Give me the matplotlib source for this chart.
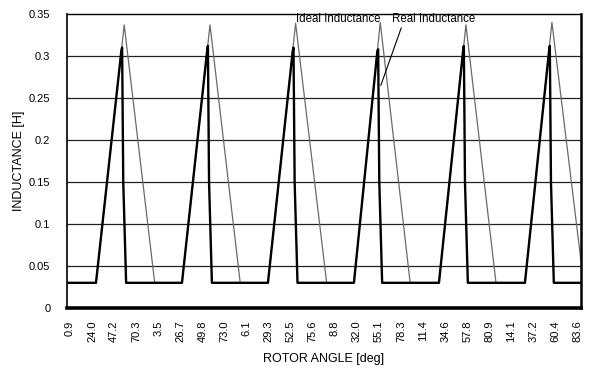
import numpy as np
import matplotlib
matplotlib.use("Agg")
import matplotlib.pyplot as plt

plt.rcParams['font.family'] = ['Liberation Sans', 'DejaVu Sans']

# ---- data (rotor angle, unwrapped degrees) ----
ideal_angle = [-2.2, 28.2, 57.8, 89.8, 118.4, 147.8, 179.5, 208.6, 237.6, 270.2,
               298.8, 326.4, 357.8, 388.0, 416.3, 447.8, 478.2, 506.5, 537.0]
ideal_L = [0.030, 0.030, 0.337, 0.030, 0.030, 0.337, 0.030, 0.030, 0.339, 0.030,
           0.030, 0.340, 0.030, 0.030, 0.337, 0.030, 0.030, 0.340, 0.056]

real_angle = [-2.2, 28.2, 54.8, 55.6, 56.8, 59.8,
              118.4, 144.8, 145.6, 146.8, 149.8,
              208.6, 234.6, 235.4, 236.6, 239.6,
              298.8, 323.4, 324.2, 325.4, 328.4,
              388.0, 413.3, 414.1, 415.3, 418.3,
              478.2, 503.5, 504.3, 505.5, 508.5, 537.0]
real_L = [0.030, 0.030, 0.306, 0.310, 0.150, 0.030,
          0.030, 0.306, 0.312, 0.150, 0.030,
          0.030, 0.306, 0.310, 0.150, 0.030,
          0.030, 0.306, 0.308, 0.150, 0.030,
          0.030, 0.306, 0.312, 0.150, 0.030,
          0.030, 0.306, 0.312, 0.150, 0.030, 0.030]

tick_labels = ['0.9', '24.0', '47.2', '70.3', '3.5', '26.7', '49.8', '73.0',
               '6.1', '29.3', '52.5', '75.6', '8.8', '32.0', '55.1', '78.3',
               '11.4', '34.6', '57.8', '80.9', '14.1', '37.2', '60.4', '83.6']
y_ticks = [0, 0.05, 0.1, 0.15, 0.2, 0.25, 0.3, 0.35]
y_tick_labels = ['0', '0.05', '0.1', '0.15', '0.2', '0.25', '0.3', '0.35']

fig = plt.figure(figsize=(5.92, 3.72), dpi=100)
ax = fig.add_axes([0.1132, 0.172, 0.8682, 0.7904])

ax.set_xlim(-2.2, 537.0)
ax.set_ylim(0, 0.35)

for y in y_ticks[1:-1]:
    ax.axhline(y, color='#222222', lw=0.9, zorder=1)

ax.plot(ideal_angle, ideal_L, color='#6a6a6a', lw=0.9, zorder=2)
ax.plot(real_angle, real_L, color='black', lw=1.7, zorder=3)

tick_pos = np.linspace(0.9, 533.6, len(tick_labels))
ax.set_xticks(tick_pos)
ax.set_xticklabels(tick_labels, rotation=90, fontsize=8)
ax.set_yticks(y_ticks)
ax.set_yticklabels(y_tick_labels, fontsize=8)
ax.tick_params(axis='both', length=0)
ax.tick_params(axis='y', pad=12)
ax.tick_params(axis='x', pad=9)

ax.spines['bottom'].set_linewidth(2.6)
ax.spines['right'].set_linewidth(1.8)
ax.spines['top'].set_linewidth(1.0)
ax.spines['left'].set_linewidth(1.2)

ax.set_xlabel('ROTOR ANGLE [deg]', fontsize=9)
ax.set_ylabel('INDUCTANCE [H]', fontsize=9)
ax.xaxis.set_label_coords(0.5, -0.152)
ax.yaxis.set_label_coords(-0.081, 0.5)

ax.text(238.5, 0.344, 'Ideal Inductance', fontsize=8.3, va='center', ha='left')
ax.annotate('Real Inductance', xy=(327.0, 0.265), xytext=(339.0, 0.344),
            fontsize=8.3, va='center', ha='left',
            arrowprops=dict(arrowstyle='-', color='black', lw=0.8,
                            shrinkA=0, shrinkB=0, relpos=(0.12, 0.0)))

fig.savefig('out.png', dpi=100)
